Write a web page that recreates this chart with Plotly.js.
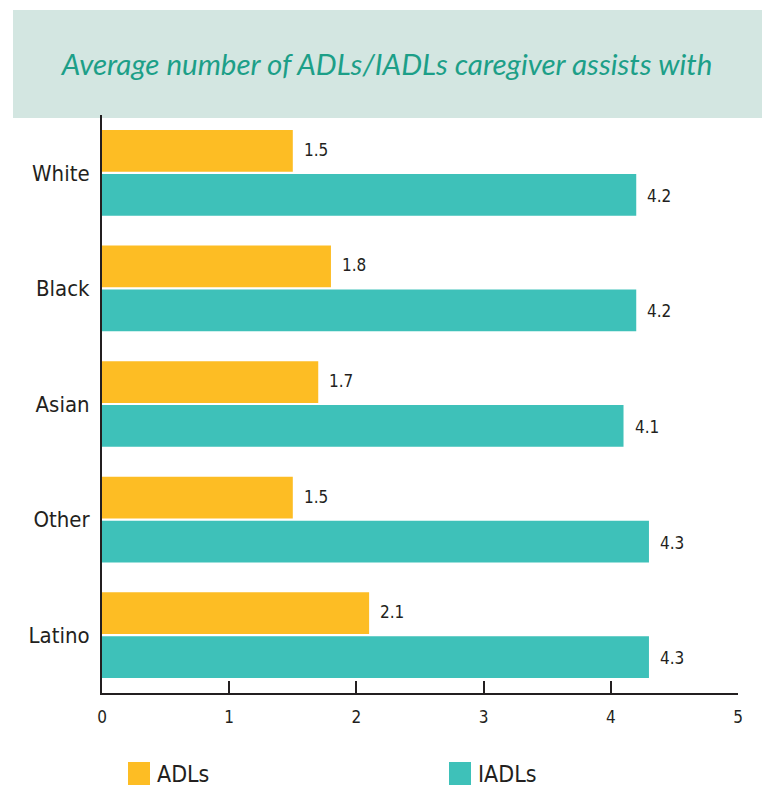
<!DOCTYPE html>
<html>
<head>
<meta charset="utf-8">
<script src="https://cdn.plot.ly/plotly-3.0.1.min.js"></script>
<style>html,body{margin:0;padding:0;background:#fff;}</style>
</head>
<body>
<div id="chart" style="width:767px;height:786px;"></div>
<script>
const categories = ["White", "Black", "Asian", "Other", "Latino"];
const seriesNames = ["ADLs", "IADLs"];
const adlValues = [1.5, 1.8, 1.7, 1.5, 2.1];
const iadlValues = [4.2, 4.2, 4.1, 4.3, 4.3];
const xTicks = [0, 1, 2, 3, 4, 5];
const titleText = "Average number of ADLs/IADLs caregiver assists with";

const colors = ["#FDBD24", "#3EC1B9"];
const ink = "#231f20";
const narrow = "'DejaVu Sans Condensed', 'Liberation Sans Narrow', sans-serif";

const traces = [
  {type: "bar", orientation: "h", name: seriesNames[0], y: categories, x: adlValues,
   marker: {color: colors[0]}, showlegend: false, hoverinfo: "skip"},
  {type: "bar", orientation: "h", name: seriesNames[1], y: categories, x: iadlValues,
   marker: {color: colors[1]}, showlegend: false, hoverinfo: "skip"}
];

const annotations = [];
[adlValues, iadlValues].forEach((vals, si) => {
  vals.forEach((v, i) => {
    annotations.push({x: v, y: categories[i], xref: "x", yref: "y", text: v.toFixed(1),
      showarrow: false, xanchor: "left", yanchor: "middle", xshift: 9,
      yshift: si === 0 ? 23 : -23, font: {family: narrow, size: 17, color: ink}});
  });
});

const legendX = [128, 449];
const shapes = [
  {type: "rect", xref: "paper", yref: "paper", x0: (13-102)/636, x1: (762-102)/636,
   y0: (693-118)/578, y1: (693-10)/578, fillcolor: "#d3e6e1", line: {width: 0}, layer: "below"}
];
seriesNames.forEach((n, i) => {
  const px = legendX[i];
  shapes.push({type: "rect", xref: "paper", yref: "paper",
    x0: (px-102)/636, x1: (px+22-102)/636, y0: (693-785)/578, y1: (693-762)/578,
    fillcolor: colors[i], line: {width: 0}});
  annotations.push({xref: "paper", yref: "paper", x: (px+27-102)/636, y: (693-774)/578,
    xanchor: "left", yanchor: "middle", showarrow: false, text: n,
    font: {family: narrow, size: 23, color: ink}});
});

const layout = {
  width: 767, height: 786,
  margin: {l: 102, r: 29, t: 115, b: 93},
  paper_bgcolor: "#ffffff", plot_bgcolor: "#ffffff",
  barmode: "group", bargap: 0.24, bargroupgap: 0.05,
  title: {text: titleText, x: 387/767, xanchor: "center", y: 1 - 65/786, yanchor: "middle",
    font: {family: "Lato, sans-serif", size: 29.5, color: "#1c9f88", style: "italic"}},
  xaxis: {range: [0, 5], tickvals: xTicks, ticktext: xTicks.map(String), showgrid: false, zeroline: false,
    showline: true, linewidth: 2, linecolor: ink, ticks: "inside", ticklen: 12, tickwidth: 2, tickcolor: ink,
    ticklabelstandoff: 8, tickfont: {family: narrow, size: 17, color: ink}, fixedrange: true},
  yaxis: {categoryorder: "array", categoryarray: categories, autorange: "reversed",
    showgrid: false, zeroline: false, showline: true, linewidth: 2, linecolor: ink, ticks: "",
    ticklabelstandoff: 6, tickfont: {family: narrow, size: 22, color: ink}, fixedrange: true},
  shapes: shapes,
  annotations: annotations
};

Plotly.newPlot("chart", traces, layout, {displayModeBar: false, staticPlot: true});
</script>
</body>
</html>
